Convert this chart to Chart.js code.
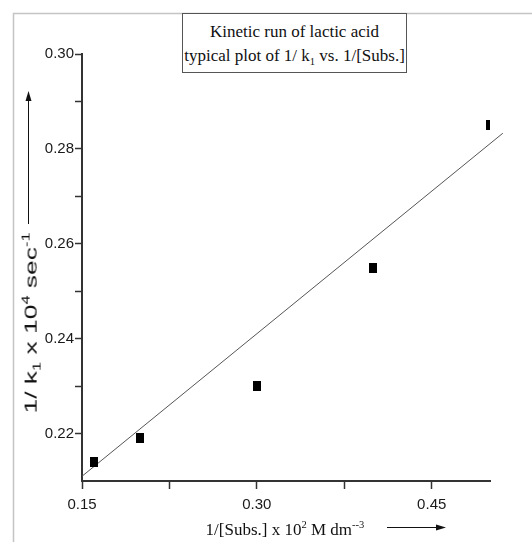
<!DOCTYPE html>
<html>
<head>
<meta charset="utf-8">
<script src="https://cdn.jsdelivr.net/npm/chart.js@4"></script>
<style>
  body { margin: 0; background: #fff; }
  #wrap { position: relative; width: 532px; height: 542px; }
  #chart { position: absolute; left: 0; top: 0; }
  .serif { font-family: "Liberation Serif", "DejaVu Serif", serif; color: #111; }
  #title {
    position: absolute; left: 182px; top: 13px; width: 225px; height: 60px;
    border: 1px solid #555; background: #fff; text-align: center;
    font-size: 17px; line-height: 24px; padding-top: 6px; box-sizing: border-box;
  }
  #xtitle {
    position: absolute; left: 185px; top: 515px; width: 200px; text-align: center;
    font-size: 17px; line-height: 20px; white-space: nowrap;
  }
  #ytitle {
    position: absolute; left: 32px; top: 323px; width: 220px; text-align: center;
    transform: translate(-50%, -50%) rotate(-90deg) scaleX(1.6);
    font-family: "Liberation Sans", Arial, sans-serif; font-size: 16.5px; color: #111;
    white-space: nowrap; line-height: 22px;
  }
  sub, sup { font-size: 0.62em; }
</style>
</head>
<body>
<div id="wrap">
  <canvas id="chart" width="532" height="542"></canvas>
  <div id="title" class="serif">Kinetic run of lactic acid<br>typical plot of 1/ k<sub>1</sub> vs. 1/[Subs.]</div>
  <div id="xtitle" class="serif">1/[Subs.] x 10<sup>2</sup> M dm<sup>--3</sup></div>
  <div id="ytitle">1/ k<sub>1</sub> x 10<sup>4</sup> sec<sup>-1</sup></div>
</div>
<script>
// measured points
const subsInv = [0.16, 0.20, 0.30, 0.40, 0.50];
const kInv = [0.214, 0.219, 0.230, 0.255, 0.285];

// straight line as drawn in the figure (two end points)
const fitX = [0.15, 0.511];
const fitY = [0.211, 0.2833];

const xTicks = [0.15, 0.225, 0.30, 0.375, 0.45];
const xTickLabels = ["0.15", "", "0.30", "", "0.45"];
const yTicks = [0.22, 0.23, 0.24, 0.25, 0.26, 0.27, 0.28, 0.29, 0.30];
const yTickLabels = ["0.22", "", "0.24", "", "0.26", "", "0.28", "", "0.30"];

// filled rectangle marker
const marker = document.createElement("canvas");
marker.width = 8;
marker.height = 10;
const mctx = marker.getContext("2d");
mctx.fillStyle = "#000";
mctx.fillRect(0, 0, 8, 10);

// frame lines and the two arrows
const decor = {
  id: "decor",
  beforeDraw(chart) {
    const c = chart.ctx;
    c.save();
    c.strokeStyle = "#c4c4c4";
    c.lineWidth = 1.5;
    c.beginPath();
    c.moveTo(532, 13.5);
    c.lineTo(13.5, 13.5);
    c.lineTo(13.5, 542);
    c.stroke();
    c.restore();
  },
  afterDraw(chart) {
    const c = chart.ctx;
    c.save();
    c.strokeStyle = "#111";
    c.fillStyle = "#111";
    c.lineWidth = 1;
    // y arrow
    c.beginPath();
    c.moveTo(28.5, 224);
    c.lineTo(28.5, 100);
    c.stroke();
    c.beginPath();
    c.moveTo(28.5, 91);
    c.lineTo(25.5, 101);
    c.lineTo(31.5, 101);
    c.closePath();
    c.fill();
    // x arrow
    c.beginPath();
    c.moveTo(387, 527.5);
    c.lineTo(438, 527.5);
    c.stroke();
    c.beginPath();
    c.moveTo(446, 527.5);
    c.lineTo(436, 524.5);
    c.lineTo(436, 530.5);
    c.closePath();
    c.fill();
    c.restore();
  }
};

const tickFont = { family: "'Liberation Sans', Arial, sans-serif", size: 15 };

new Chart(document.getElementById("chart"), {
  type: "scatter",
  data: {
    datasets: [
      {
        label: "data",
        data: subsInv.map((x, i) => ({ x, y: kInv[i] })),
        pointStyle: marker,
        pointRadius: 5,
        clip: 0
      },
      {
        label: "fit",
        type: "line",
        data: fitX.map((x, i) => ({ x, y: fitY[i] })),
        borderColor: "#555",
        borderWidth: 1,
        pointRadius: 0,
        fill: false,
        clip: false
      }
    ]
  },
  options: {
    responsive: false,
    animation: false,
    events: [],
    layout: { padding: { top: 54, right: 42, left: 0, bottom: 0 } },
    plugins: { legend: { display: false }, tooltip: { enabled: false } },
    scales: {
      x: {
        type: "linear",
        min: 0.15,
        max: 0.50,
        afterBuildTicks: s => { s.ticks = xTicks.map(v => ({ value: v })); },
        afterFit: s => { s.height = 61; },
        ticks: {
          callback: (v, i) => xTickLabels[i],
          font: tickFont,
          color: "#1a1a1a",
          padding: 7,
          maxRotation: 0,
          autoSkip: false
        },
        grid: { drawOnChartArea: false, tickLength: 8, tickColor: "#333", tickWidth: 1.5 },
        border: { color: "#333", width: 2 }
      },
      y: {
        type: "linear",
        min: 0.21,
        max: 0.30,
        afterBuildTicks: s => { s.ticks = yTicks.map(v => ({ value: v })); },
        afterFit: s => { s.width = 82; },
        ticks: {
          callback: (v, i) => yTickLabels[i],
          font: tickFont,
          color: "#1a1a1a",
          padding: 1,
          autoSkip: false
        },
        grid: { drawOnChartArea: false, tickLength: 7, tickColor: "#333", tickWidth: 1.5 },
        border: { color: "#333", width: 2 }
      }
    }
  },
  plugins: [decor]
});
</script>
</body>
</html>
